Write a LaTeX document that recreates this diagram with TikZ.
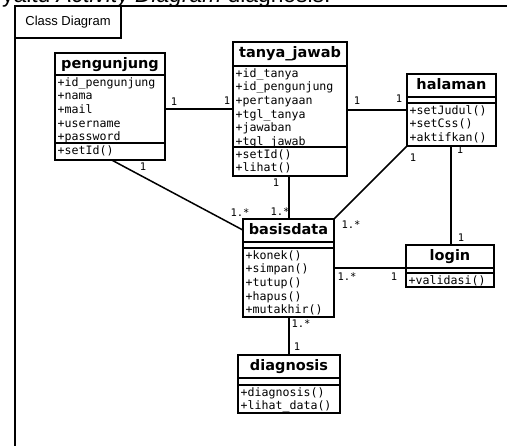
\documentclass[tikz,border=0pt]{standalone}
\usepackage{fontspec}
\setmainfont{Liberation Sans}
\newfontfamily\umlsans{DejaVu Sans}
\newfontfamily\umlmono{DejaVu Sans Mono}
\usetikzlibrary{fit}

\tikzset{
  boxline/.style={line width=1.8pt},
  link/.style={line width=1.5pt},
  frameline/.style={line width=1.6pt},
  classtitle/.style={font=\umlsans\bfseries\fontsize{14.5}{16}\selectfont, inner sep=0, anchor=base},
  member/.style={font=\umlmono\fontsize{11.6}{13.6}\selectfont, inner sep=0, anchor=base west},
  mult/.style={font=\umlmono\fontsize{10.5}{12}\selectfont, inner sep=0},
}

% class box: name, left, top, right, title rule, member rule, bottom, title
\newcommand\umlclass[8]{%
  \draw[boxline] (#2,#3) rectangle (#4,#7);
  \draw[boxline] (#2,#5) -- (#4,#5) (#2,#6) -- (#4,#6);
  \node[fit={(#2,#3)(#4,#7)}, inner sep=0] (#1) {};
  \node[classtitle] (#1-title) at ({(#2+#4)/2},#3+15.5) {#8};
}
% member lines: name prefix, left, section top, list
\newcommand\umlmembers[4]{%
  \foreach \m [count=\i] in {#4} {
    \node[member] (#1-\i) at (#2+2.5, #3+11.3+13.6*\i-13.6) {\m};
  }
}

\begin{document}
\begin{tikzpicture}[x=1pt, y=-1pt]
  \useasboundingbox (0,0) rectangle (507,446);
  \fill[white] (0,0) rectangle (507,446);
  \clip (0,0) rectangle (507,446);

  % caption line running above the frame
  \node[anchor=base west, inner sep=0, font=\fontsize{22.8}{26}\selectfont] (caption) at (2,2.5)
    {yaitu \textit{Activity Diagram} diagnosis.};

  % diagram frame and its tab
  \draw[frameline] (15,460) -- (15,6) -- (520,6);
  \draw[frameline] (15,6) rectangle (121,38);
  \node[font=\fontsize{13}{15}\selectfont, inner sep=0] (tab) at (68,22) {Class Diagram};

  % classes
  \umlclass{pengunjung}{55}{53}{165}{75}{143}{160}{pengunjung}
  \umlmembers{pengunjung-a}{55}{75}{+id\_pengunjung,+nama,+mail,+username,+password}
  \umlmembers{pengunjung-o}{55}{143}{+setId()}

  \umlclass{tanyajawab}{233}{42}{347}{66}{147}{176}{tanya\_jawab}
  \umlmembers{tanyajawab-a}{233}{66}{+id\_tanya,+id\_pengunjung,+pertanyaan,+tgl\_tanya,+jawaban,+tgl\_jawab}
  \umlmembers{tanyajawab-o}{233}{147}{+setId(),+lihat()}

  \umlclass{halaman}{407}{74}{496}{97}{103}{146}{halaman}
  \umlmembers{halaman-o}{407}{103}{+setJudul(),+setCss(),+aktifkan()}

  \umlclass{basisdata}{243}{219}{334}{242}{248}{317}{basisdata}
  \umlmembers{basisdata-o}{243}{248}{+konek(),+simpan(),+tutup(),+hapus(),+mutakhir()}

  \umlclass{login}{406}{245}{494}{268}{273}{287}{login}
  \umlmembers{login-o}{406}{273}{+validasi()}

  \umlclass{diagnosis}{238}{355}{340}{378}{385}{413}{diagnosis}
  \umlmembers{diagnosis-o}{238}{385}{+diagnosis(),+lihat\_data()}

  % rows and columns where the associations attach
  \coordinate (r1) at (0,109);
  \coordinate (r2) at (0,110);
  \coordinate (r3) at (0,230);
  \coordinate (r4) at (0,268);
  \coordinate (c1) at (112,0);
  \coordinate (c2) at (289,0);
  \coordinate (c3) at (451,0);

  % associations
  \draw[link] (pengunjung.east |- r1) -- (tanyajawab.west |- r1);
  \draw[link] (tanyajawab.east |- r2) -- (halaman.west |- r2);
  \draw[link] (pengunjung.south -| c1) -- (basisdata.west |- r3);
  \draw[link] (tanyajawab.south -| c2) -- (basisdata.north -| c2);
  \draw[link] (halaman.south west) -- (basisdata.north east);
  \draw[link] (halaman.south -| c3) -- (login.north -| c3);
  \draw[link] (basisdata.east |- r4) -- (login.west |- r4);
  \draw[link] (basisdata.south -| c2) -- (diagnosis.north -| c2);

  % multiplicities
  \node[mult] (m1a) at (174,102) {1};
  \node[mult] (m1b) at (227,101) {1};
  \node[mult] (m2a) at (357,101) {1};
  \node[mult] (m2b) at (399,99) {1};
  \node[mult] (m3a) at (143,167) {1};
  \node[mult] (m3b) at (240,213) {1.*};
  \node[mult] (m4a) at (276,183) {1};
  \node[mult] (m4b) at (280,212) {1.*};
  \node[mult] (m5a) at (413,158) {1};
  \node[mult] (m5b) at (351,225) {1.*};
  \node[mult] (m6a) at (460,150) {1};
  \node[mult] (m6b) at (461,238) {1};
  \node[mult] (m7a) at (347,277) {1.*};
  \node[mult] (m7b) at (394,277) {1};
  \node[mult] (m8a) at (301,324) {1.*};
  \node[mult] (m8b) at (297,347) {1};
\end{tikzpicture}
\end{document}
